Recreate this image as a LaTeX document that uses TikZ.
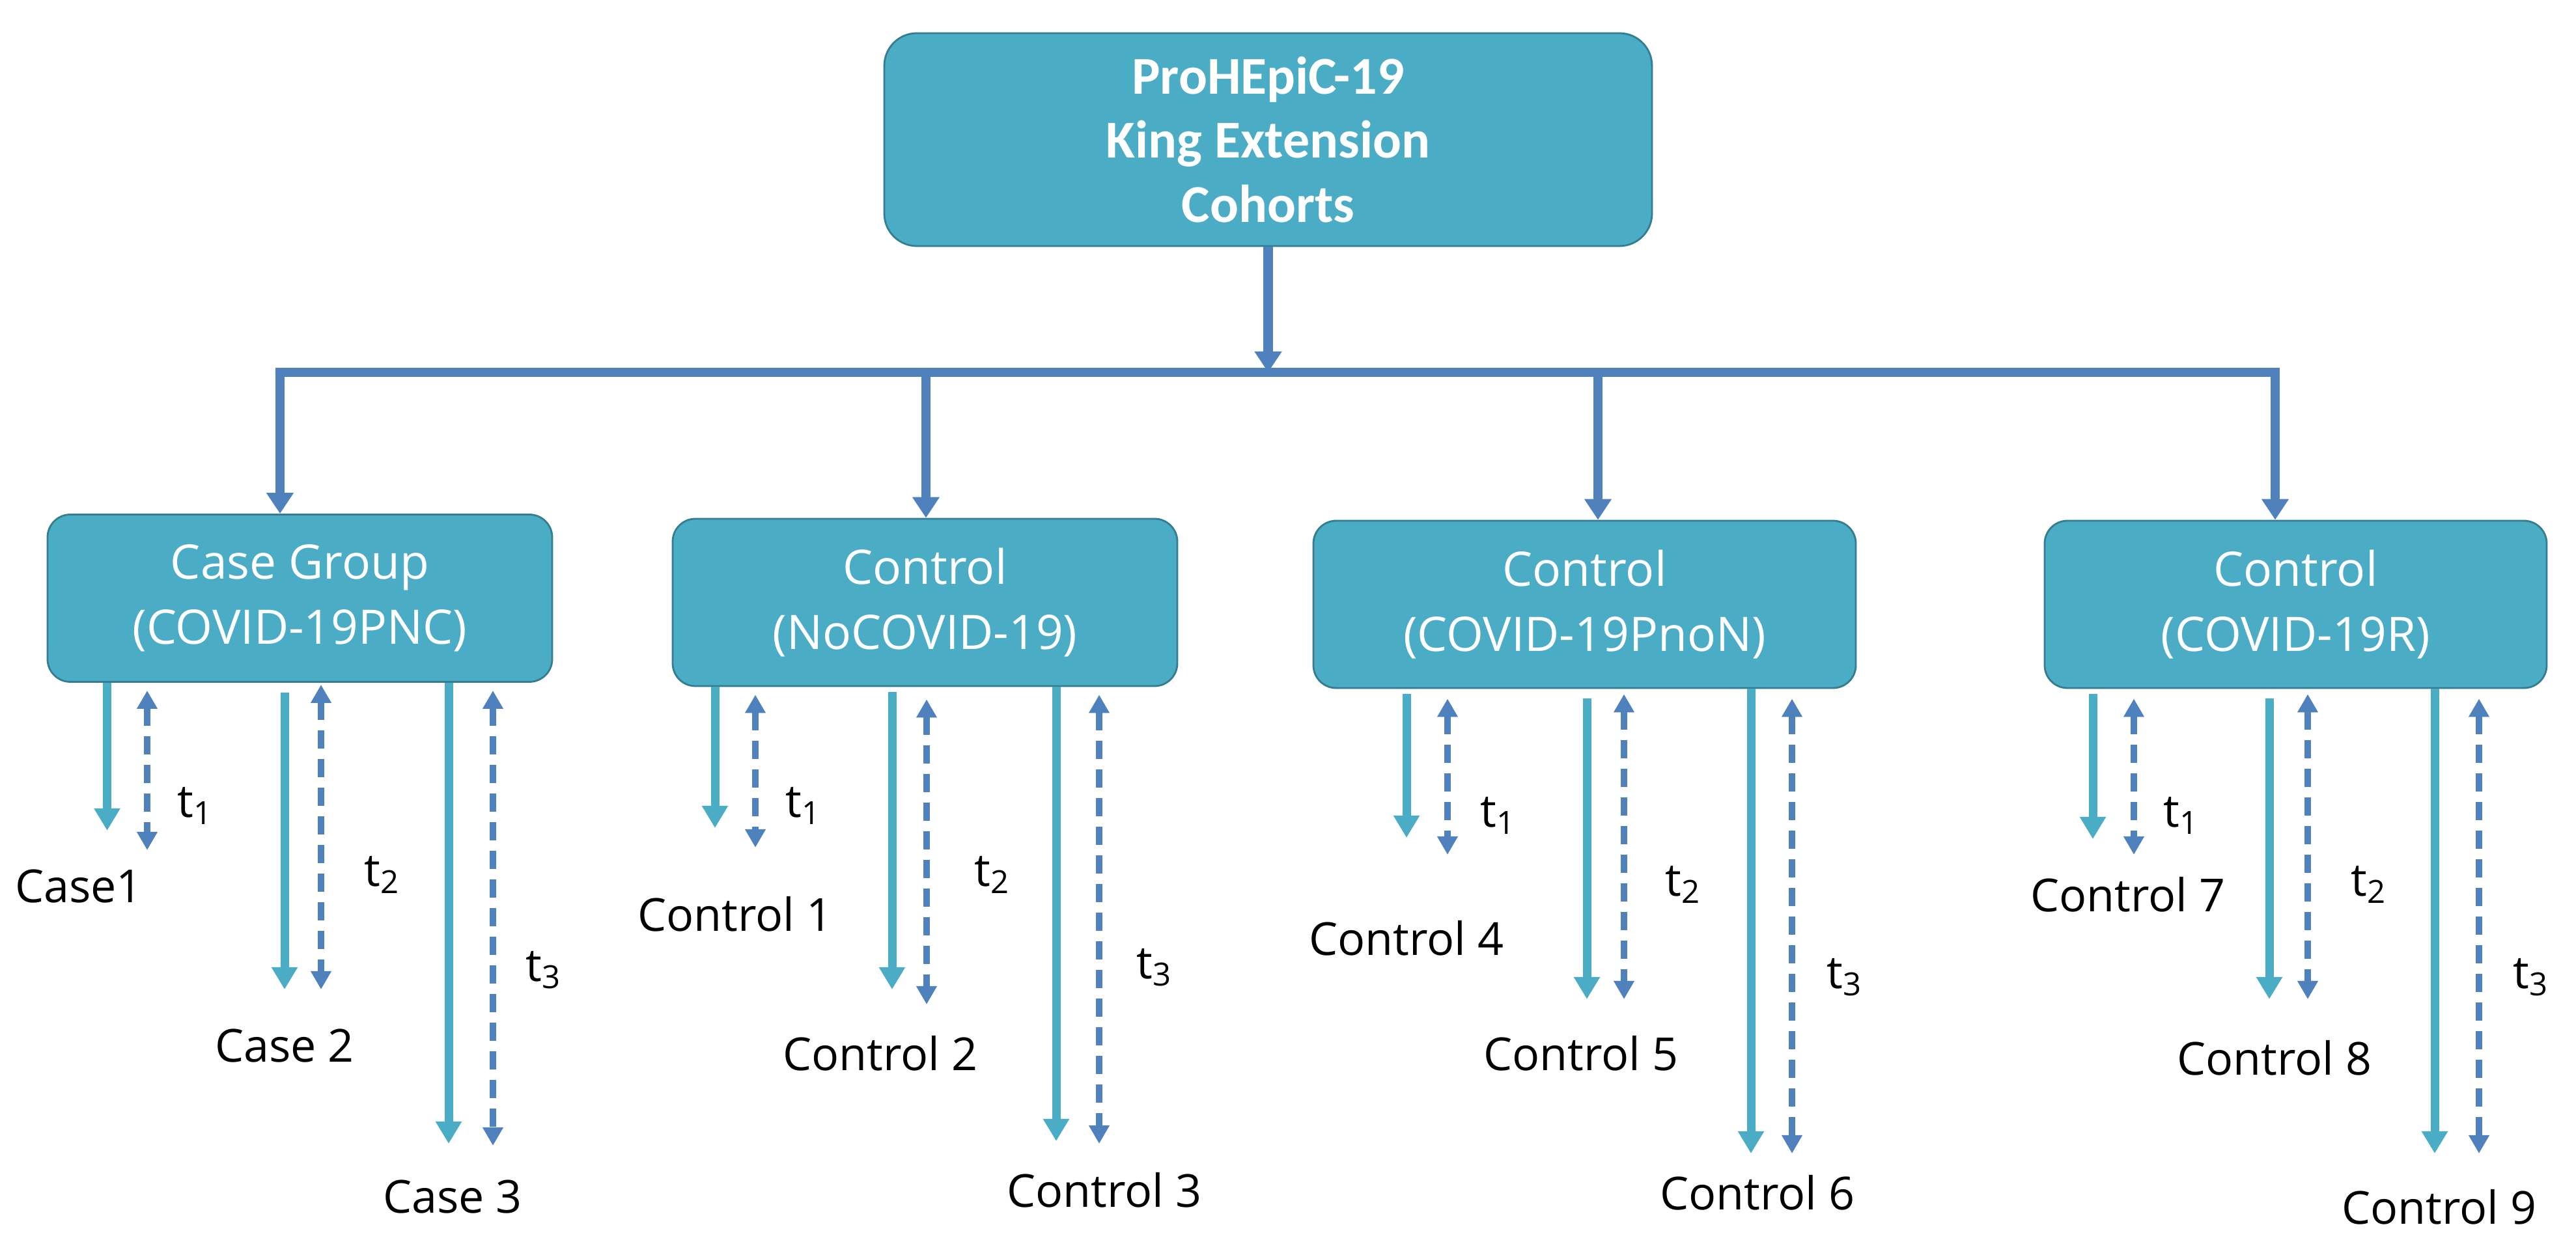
\documentclass[tikz,border=0pt]{standalone}
\usepackage{fontspec}
\setmainfont{Open Sans}
\newfontfamily\titlefont{Carlito}
\usetikzlibrary{arrows.meta}
\definecolor{boxfill}{HTML}{4BACC6}
\definecolor{boxline}{HTML}{357D91}
\definecolor{arrowblue}{HTML}{4BACC6}
\definecolor{linkblue}{HTML}{4F81BD}

\begin{document}
\begin{tikzpicture}[
  > = {Triangle[length=3.4mm,width=3.8mm]},
  topbox/.style = {draw=boxline,line width=0.8pt,fill=boxfill,rounded corners=5mm,minimum width=11.79cm,minimum height=3.27cm,text=white,align=center,font=\titlefont\bfseries\fontsize{23.3}{28}\selectfont},
  grpbox/.style = {draw=boxline,line width=0.8pt,fill=boxfill,rounded corners=3.5mm,minimum height=2.57cm,text=white,align=center,font=\fontsize{20.8}{28.5}\selectfont},
  bus/.style = {draw=linkblue,line width=4pt},
  busarrow/.style = {bus,>={Triangle[length=3.2mm,width=4mm]},->},
  solidarrow/.style = {draw=arrowblue,line width=3.7pt,->},
  dasharrow/.style = {draw=linkblue,line width=2.8pt,>={Triangle[length=2.8mm,width=3mm]},<->,dash pattern=on 2.8mm off 1.6mm,shorten <=1.2mm},
  lbl/.style = {font=\fontsize{19.9}{24}\selectfont}
  ]
  \useasboundingbox (0,0) rectangle (39.56,19.28);

  \node[topbox] (top) at (19.475,17.135) {ProHEpiC-19\\King Extension\\Cohorts};
  \node[grpbox,minimum width=7.75cm] (case) at (4.605,10.09) {Case Group\\(COVID-19PNC)};
  \node[grpbox,minimum width=7.75cm] (noc) at (14.205,10.025) {Control\\(NoCOVID-19)};
  \node[grpbox,minimum width=8.33cm] (pnon) at (24.335,9.995) {Control\\(COVID-19PnoN)};
  \node[grpbox,minimum width=7.71cm] (rec) at (35.255,9.995) {Control\\(COVID-19R)};

  % bus from the cohort box to the four groups
  \coordinate (br1) at (4.30,13.56);
  \coordinate (br2) at (14.22,13.56);
  \coordinate (br3) at (24.54,13.56);
  \coordinate (br4) at (34.94,13.56);
  \draw[busarrow] (top) -- (top |- br1);
  \draw[bus,line cap=rect] (br1) -- (br4);
  \draw[busarrow] (br1) -- (br1 |- case.north);
  \draw[busarrow] (br2) -- (br2 |- noc.north);
  \draw[busarrow] (br3) -- (br3 |- pnon.north);
  \draw[busarrow] (br4) -- (br4 |- rec.north);

  % case group
  \coordinate (s11) at (1.645,6.52);
  \coordinate (d11) at (2.26,6.22);
  \coordinate (s12) at (4.37,4.08);
  \coordinate (d12) at (4.93,4.08);
  \coordinate (s13) at (6.89,1.71);
  \coordinate (d13) at (7.57,1.68);
  \draw[solidarrow] (case.south -| s11) -- (s11);
  \draw[dasharrow] (case.south -| d11) -- (d11);
  \draw[solidarrow,shorten <=1.5mm] (case.south -| s12) -- (s12);
  \draw[dasharrow,shorten <=0.3mm] (case.south -| d12) -- (d12);
  \draw[solidarrow] (case.south -| s13) -- (s13);
  \draw[dasharrow] (case.south -| d13) -- (d13);
  \node[lbl] (t11) at (3.00,6.90) {t\textsubscript{1}};
  \node[lbl] (t12) at (5.87,5.84) {t\textsubscript{2}};
  \node[lbl] (t13) at (8.35,4.38) {t\textsubscript{3}};
  \node[lbl] (case1) at (1.21,5.66) {Case1};
  \node[lbl] (case2) at (4.37,3.21) {Case 2};
  \node[lbl] (case3) at (6.95,0.89) {Case 3};

  % no covid
  \coordinate (s21) at (10.98,6.56);
  \coordinate (d21) at (11.60,6.26);
  \coordinate (s22) at (13.70,4.08);
  \coordinate (d22) at (14.23,3.85);
  \coordinate (s23) at (16.22,1.75);
  \coordinate (d23) at (16.88,1.71);
  \draw[solidarrow] (noc.south -| s21) -- (s21);
  \draw[dasharrow] (noc.south -| d21) -- (d21);
  \draw[solidarrow,shorten <=0.8mm] (noc.south -| s22) -- (s22);
  \draw[dasharrow,shorten <=1.9mm] (noc.south -| d22) -- (d22);
  \draw[solidarrow] (noc.south -| s23) -- (s23);
  \draw[dasharrow] (noc.south -| d23) -- (d23);
  \node[lbl] (t21) at (12.34,6.90) {t\textsubscript{1}};
  \node[lbl] (t22) at (15.24,5.84) {t\textsubscript{2}};
  \node[lbl] (t23) at (17.73,4.42) {t\textsubscript{3}};
  \node[lbl] (ctl1) at (11.29,5.24) {Control 1};
  \node[lbl] (ctl2) at (13.52,3.10) {Control 2};
  \node[lbl] (ctl3) at (16.96,1.00) {Control 3};

  % PnoN
  \coordinate (s31) at (21.60,6.41);
  \coordinate (d31) at (22.23,6.15);
  \coordinate (s32) at (24.37,3.93);
  \coordinate (d32) at (24.94,3.93);
  \coordinate (s33) at (26.89,1.56);
  \coordinate (d33) at (27.52,1.56);
  \draw[solidarrow,shorten <=0.8mm] (pnon.south -| s31) -- (s31);
  \draw[dasharrow,shorten <=1.5mm] (pnon.south -| d31) -- (d31);
  \draw[solidarrow,shorten <=1.5mm] (pnon.south -| s32) -- (s32);
  \draw[dasharrow,shorten <=0.8mm] (pnon.south -| d32) -- (d32);
  \draw[solidarrow] (pnon.south -| s33) -- (s33);
  \draw[dasharrow,shorten <=1.5mm] (pnon.south -| d33) -- (d33);
  \node[lbl] (t31) at (23.01,6.75) {t\textsubscript{1}};
  \node[lbl] (t32) at (25.85,5.69) {t\textsubscript{2}};
  \node[lbl] (t33) at (28.33,4.27) {t\textsubscript{3}};
  \node[lbl] (ctl4) at (21.60,4.87) {Control 4};
  \node[lbl] (ctl5) at (24.28,3.10) {Control 5};
  \node[lbl] (ctl6) at (26.99,0.96) {Control 6};

  % recovered
  \coordinate (s41) at (32.14,6.39);
  \coordinate (d41) at (32.77,6.15);
  \coordinate (s42) at (34.85,3.93);
  \coordinate (d42) at (35.44,3.93);
  \coordinate (s43) at (37.39,1.56);
  \coordinate (d43) at (38.07,1.56);
  \draw[solidarrow,shorten <=0.8mm] (rec.south -| s41) -- (s41);
  \draw[dasharrow,shorten <=1.5mm] (rec.south -| d41) -- (d41);
  \draw[solidarrow,shorten <=1.5mm] (rec.south -| s42) -- (s42);
  \draw[dasharrow,shorten <=0.8mm] (rec.south -| d42) -- (d42);
  \draw[solidarrow] (rec.south -| s43) -- (s43);
  \draw[dasharrow,shorten <=1.5mm] (rec.south -| d43) -- (d43);
  \node[lbl] (t41) at (33.50,6.75) {t\textsubscript{1}};
  \node[lbl] (t42) at (36.38,5.69) {t\textsubscript{2}};
  \node[lbl] (t43) at (38.87,4.27) {t\textsubscript{3}};
  \node[lbl] (ctl7) at (32.68,5.54) {Control 7};
  \node[lbl] (ctl8) at (34.93,3.03) {Control 8};
  \node[lbl] (ctl9) at (37.46,0.74) {Control 9};
\end{tikzpicture}
\end{document}
